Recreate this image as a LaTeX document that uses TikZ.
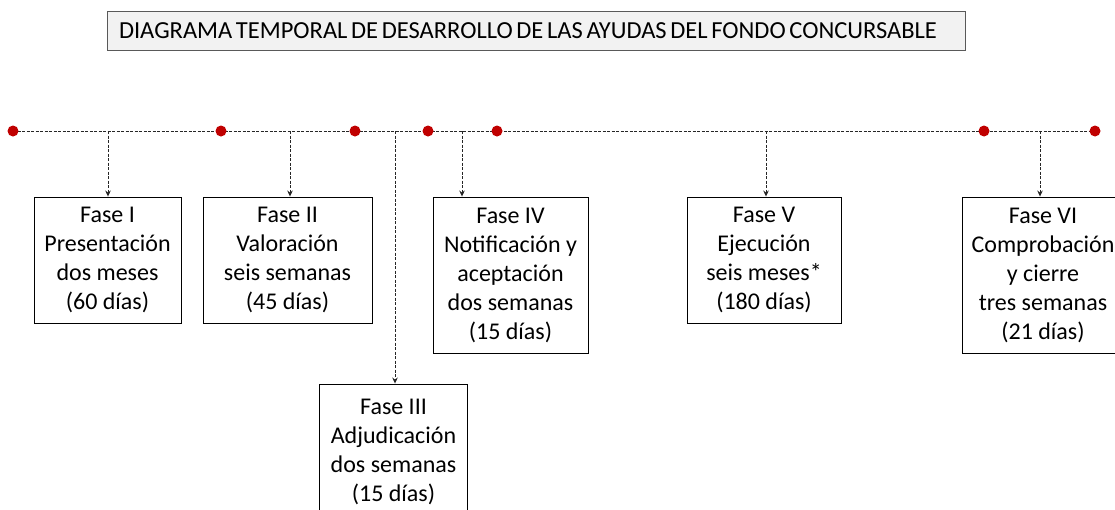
\documentclass[tikz,border=0pt]{standalone}
\usepackage{fontspec}
\setmainfont{Carlito}
\usetikzlibrary{arrows.meta}
\definecolor{ink}{HTML}{000000}
\definecolor{hitored}{HTML}{C00000}
\definecolor{titlefill}{HTML}{F2F2F2}
\definecolor{titleline}{HTML}{595959}
\newcommand{\titulofont}{\fontsize{24.5}{28}\selectfont\spaceskip .15em\relax}

\begin{document}
\begin{tikzpicture}[x=1pt,y=-1pt,>={Stealth[length=6pt,width=5.5pt]},
  fase/.style={draw=ink,line width=.9pt,align=center,inner sep=0pt,
    minimum height=126pt,font=\fontsize{24}{29}\selectfont},
  titulo/.style={draw=titleline,fill=titlefill,line width=1pt,align=left,
    text width=834pt,inner xsep=12pt,inner ysep=0pt,minimum height=39pt},
  hito/.style={circle,fill=hitored,inner sep=0pt,minimum size=11pt},
  tline/.style={draw=ink!85,line width=.9pt,dash pattern=on 3pt off 1.5pt},
  drop/.style={->,tline}]
\useasboundingbox (0,0) rectangle (1115,509);

% ============ TITLE ============
\node[titulo] (tit) at (536,30.5)
  {\titulofont DIAGRAMA TEMPORAL DE DESARROLLO DE LAS AYUDAS DEL FONDO CONCURSABLE};

% ============ TIMELINE ============
\foreach \n/\x in {h0/13,h1/221,h2/355,h3/428,h4/497,h5/984,h6/1095}
  \coordinate (\n) at (\x,131);
\draw[tline] (h0)--(h6);
\foreach \n in {h0,h1,h2,h3,h4,h5,h6}
  \node[hito] (d\n) at (\n) {};

% ============ PHASES ============
\node[fase,minimum width=147pt] (f1) at (107.5,260)
  {Fase I\\Presentación\\dos meses\\(60 días)};
\node[fase,minimum width=169pt] (f2) at (287.5,260)
  {Fase II\\Valoración\\seis semanas\\(45 días)};
\node[fase,minimum width=148pt,minimum height=136pt] (f3) at (393.5,452)
  {Fase III\\Adjudicación\\dos semanas\\(15 días)};
\node[fase,minimum width=155pt,minimum height=156pt] (f4) at (510.5,275)
  {Fase IV\\Notificación y\\aceptación\\dos semanas\\(15 días)};
\node[fase,minimum width=154pt] (f5) at (764,260)
  {Fase V\\Ejecución\\seis meses*\\(180 días)};
\node[fase,minimum width=162pt,minimum height=156pt] (f6) at (1043,275)
  {Fase VI\\Comprobación\\y cierre\\tres semanas\\(21 días)};

% drop lines from the timeline
\foreach \i/\x in {1/108,2/290,3/395,4/462,5/766,6/1040}{
  \coordinate (t\i) at (\x,131);
  \draw[drop] (t\i)--(t\i |- f\i.north);}

\end{tikzpicture}
\end{document}
